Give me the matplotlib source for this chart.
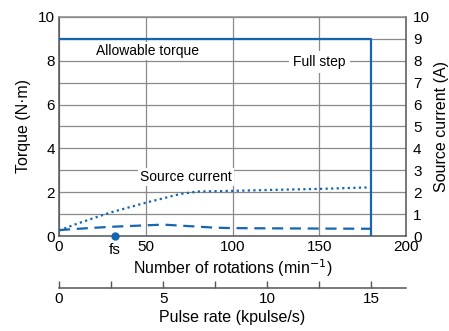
import matplotlib
matplotlib.use("Agg")
import matplotlib.pyplot as plt

# Data
allow_rpm = [0, 180, 180]
allow_torque = [9, 9, 0]

current_rpm = [0, 10, 20, 30, 40, 50, 60, 70, 80, 100, 120, 150, 180]
current_a = [0.25, 0.55, 0.82, 1.08, 1.3, 1.52, 1.72, 1.92, 2.03, 2.06, 2.1, 2.15, 2.22]

torque_rpm = [0, 15, 30, 45, 60, 75, 90, 100, 120, 150, 180]
torque_nm = [0.27, 0.35, 0.42, 0.47, 0.52, 0.45, 0.38, 0.36, 0.35, 0.34, 0.33]

fs_rpm = 32
x_ticks = [0, 50, 100, 150, 200]
y_ticks = [0, 2, 4, 6, 8, 10]
y2_ticks = list(range(11))
pulse_major = [0, 5, 10, 15]
pulse_minor = [2.5, 7.5, 12.5]

plt.rcParams['font.family'] = ['Liberation Sans', 'DejaVu Sans']
BLUE = '#1565b0'
GRID = '#8a8a8a'
SPINE = '#555555'
TICK_FS = 11
LAB_FS = 11.5

fig = plt.figure(figsize=(4.49, 3.31), dpi=100)
ax = fig.add_axes([0.1314, 0.287, 0.773, 0.662])
ax.set_xlim(0, 200)
ax.set_ylim(0, 10)
ax.set_xticks(x_ticks)
ax.set_yticks(y_ticks)
ax.set_yticks([1, 3, 5, 7, 9], minor=True)
ax.grid(True, which='both', color=GRID, lw=0.9)
ax.tick_params(which='both', length=0, labelsize=TICK_FS, pad=3)
for s in ax.spines.values():
    s.set_color(SPINE)
    s.set_linewidth(1.1)
ax.spines['top'].set_color(GRID)

ax.plot(allow_rpm, allow_torque, color=BLUE, lw=1.6, zorder=3)
ax.plot(torque_rpm, torque_nm, color=BLUE, lw=1.6, ls=(0, (5, 3)), zorder=3)
ax.plot([fs_rpm], [0], 'o', color=BLUE, ms=5, clip_on=False, zorder=5)
ax.text(fs_rpm, -0.3, 'fs', ha='center', va='top', fontsize=TICK_FS)

ax.text(51, 8.45, 'Allowable torque', ha='center', va='center', fontsize=10,
        bbox=dict(facecolor='white', edgecolor='none', pad=1.5), zorder=4)
ax.text(150, 7.95, 'Full step', ha='center', va='center', fontsize=10,
        bbox=dict(facecolor='white', edgecolor='none', pad=3), zorder=4)
ax.text(73, 2.68, 'Source current', ha='center', va='center', fontsize=10,
        bbox=dict(facecolor='white', edgecolor='none', pad=1.5), zorder=4)

ax.set_ylabel('Torque (N·m)', fontsize=LAB_FS, labelpad=5)
ax.set_xlabel('Number of rotations (min$^{-1}$)', fontsize=LAB_FS, labelpad=2)

ax2 = ax.twinx()
ax2.set_ylim(0, 10)
ax2.set_yticks(y2_ticks)
ax2.tick_params(length=0, labelsize=TICK_FS, pad=5)
for s in ax2.spines.values():
    s.set_visible(False)
ax2.plot(current_rpm, current_a, color=BLUE, lw=1.6, ls=(0, (1, 1.5)), zorder=3)
ax2.set_ylabel('Source current (A)', fontsize=LAB_FS, labelpad=3)

ax3 = fig.add_axes([0.1314, 0.131, 0.773, 0.001])
ax3.set_xlim(0, 200 / 12)
ax3.set_ylim(0, 1)
ax3.set_yticks([])
ax3.patch.set_visible(False)
for k in ['top', 'left', 'right']:
    ax3.spines[k].set_visible(False)
ax3.spines['bottom'].set_color(SPINE)
ax3.spines['bottom'].set_linewidth(1.1)
ax3.set_xticks(pulse_major)
ax3.set_xticklabels([str(v) for v in pulse_major])
ax3.set_xticks(pulse_minor, minor=True)
ax3.tick_params(which='both', direction='in', length=5, width=1, color=SPINE, labelsize=TICK_FS, pad=3)
ax3.set_xlabel('Pulse rate (kpulse/s)', fontsize=LAB_FS, labelpad=3)

fig.savefig('out.png', dpi=100)
